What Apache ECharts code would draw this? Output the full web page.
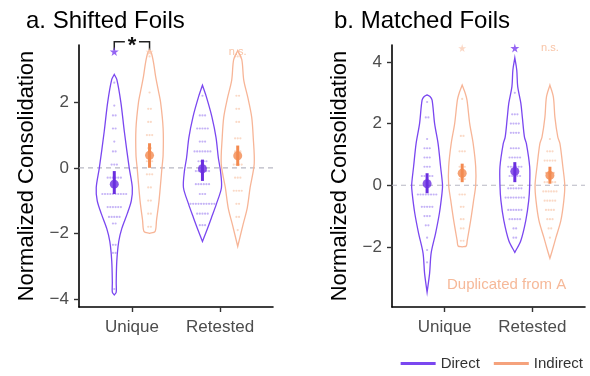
<!DOCTYPE html>
<html>
<head>
<meta charset="utf-8">
<script src="https://cdn.jsdelivr.net/npm/echarts@6/dist/echarts.min.js"></script>
<style>
html, body { margin: 0; background: #fff; }
#chart { width: 590px; height: 376px; }
</style>
</head>
<body>
<div id="chart"></div>
<script>
const categories = ['Unique', 'Retested']
const groups = ['Direct', 'Indirect']

// violin outlines: [value, relative density]
const shiftedUniqueDirect = [[2.85, 0], [2.7, 0.13], [2.0, 0.34], [1.1, 0.52], [0, 0.77], [-0.6, 0.93], [-1.0, 0.88], [-1.4, 0.67], [-1.85, 0.39], [-2.25, 0.23], [-2.85, 0.13], [-3.5, 0.1], [-3.8, 0.1], [-3.88, 0]]
const shiftedUniqueIndirect = [[3.6, 0], [3.5, 0.1], [3.2, 0.21], [2.8, 0.31], [2.4, 0.44], [2.0, 0.57], [1.2, 0.7], [0.4, 0.7], [0, 0.64], [-1.0, 0.49], [-1.6, 0.36], [-1.95, 0.28], [-2.0, 0]]
const shiftedRetestedDirect = [[2.52, 0], [2.15, 0.21], [1.55, 0.49], [0.92, 0.7], [0.3, 0.82], [-0.1, 0.93], [-0.6, 0.98], [-1.1, 0.72], [-1.53, 0.46], [-1.85, 0.26], [-2.25, 0]]
const shiftedRetestedIndirect = [[3.58, 0], [3.3, 0.21], [2.68, 0.31], [2.15, 0.52], [1.55, 0.72], [0.92, 0.8], [0.12, 0.85], [-0.6, 0.64], [-1.23, 0.49], [-1.72, 0.28], [-2.4, 0]]
const matchedUniqueDirect = [[2.93, 0], [2.88, 0.15], [2.76, 0.26], [2.0, 0.39], [1.35, 0.57], [0.6, 0.7], [0, 0.8], [-0.27, 0.77], [-0.9, 0.64], [-1.56, 0.44], [-2.2, 0.21], [-2.86, 0.13], [-3.47, 0]]
const matchedUniqueIndirect = [[3.25, 0], [3.0, 0.15], [2.76, 0.25], [2.0, 0.39], [1.35, 0.57], [0.6, 0.7], [0, 0.7], [-0.5, 0.59], [-1.14, 0.44], [-1.8, 0.26], [-1.97, 0.21], [-2.0, 0]]
const matchedRetestedDirect = [[4.13, 0], [3.74, 0.1], [3.2, 0.15], [2.67, 0.31], [2.2, 0.39], [1.56, 0.5], [1.35, 0.6], [0.6, 0.77], [0, 0.77], [-0.5, 0.72], [-1.14, 0.57], [-1.8, 0.31], [-2.18, 0]]
const matchedRetestedIndirect = [[3.25, 0], [2.86, 0.18], [2.2, 0.26], [1.56, 0.41], [1.35, 0.52], [0.6, 0.67], [0, 0.77], [-0.5, 0.72], [-1.14, 0.57], [-1.7, 0.31], [-2.1, 0.13], [-2.37, 0]]

// dot rows: [value, count]
const shiftedUniqueDirectDots = [[2.6, 1], [1.9, 1], [1.6, 2], [1.2, 2], [0.8, 1], [0.5, 2], [0.1, 3], [-0.3, 6], [-0.8, 10], [-1.2, 6], [-1.5, 5], [-1.7, 2], [-2.35, 2], [-2.6, 2], [-3.7, 1]]
const shiftedUniqueIndirectDots = [[3.4, 1], [2.3, 1], [1.8, 2], [1.4, 2], [1.0, 3], [0.6, 2], [0.2, 3], [-0.2, 3], [-0.6, 2], [-1.0, 2], [-1.4, 2], [-1.8, 2]]
const shiftedRetestedDirectDots = [[2.2, 1], [1.6, 3], [1.2, 5], [0.8, 3], [0.5, 7], [0.2, 4], [-0.1, 6], [-0.5, 6], [-0.8, 3], [-1.1, 10], [-1.4, 5], [-1.75, 3]]
const shiftedRetestedIndirectDots = [[3.4, 3], [2.2, 2], [1.8, 2], [1.4, 2], [0.9, 3], [0.5, 3], [0.1, 4], [-0.3, 3], [-0.7, 4], [-1.1, 2], [-1.5, 2], [-1.9, 1]]
const matchedUniqueDirectDots = [[2.7, 1], [2.2, 2], [1.5, 1], [1.2, 3], [0.9, 3], [0.6, 3], [0.3, 5], [-0.3, 8], [-0.7, 5], [-1.0, 3], [-1.3, 2], [-1.7, 1], [-2.1, 1], [-2.5, 1]]
const matchedUniqueIndirectDots = [[2.8, 1], [1.6, 2], [1.1, 3], [0.6, 3], [0.2, 3], [-0.3, 3], [-0.7, 2], [-1.1, 2], [-1.4, 2], [-1.8, 2]]
const matchedRetestedDirectDots = [[3.0, 1], [2.3, 3], [2.0, 4], [1.7, 4], [1.2, 4], [0.9, 5], [0.6, 6], [0.3, 5], [-0.1, 6], [-0.4, 8], [-0.8, 6], [-1.1, 5], [-1.4, 2], [-1.7, 2]]
const matchedRetestedIndirectDots = [[1.5, 1], [1.1, 3], [0.8, 5], [0.4, 4], [0.1, 5], [-0.2, 6], [-0.5, 5], [-0.8, 4], [-1.1, 3], [-1.4, 2], [-1.7, 1]]

// mean, lower, upper per category
const shiftedDirectMeans = [[-0.5, -0.8, -0.1], [-0.03, -0.4, 0.25]]
const shiftedIndirectMeans = [[0.38, 0.0, 0.75], [0.37, 0.06, 0.68]]
const matchedDirectMeans = [[0.05, -0.26, 0.39], [0.45, 0.1, 0.75]]
const matchedIndirectMeans = [[0.39, 0.1, 0.7], [0.32, 0.05, 0.6]]

const shiftedTicks = [-4, -2, 0, 2]
const matchedTicks = [-2, 0, 2, 4]

const lineColor = { Direct: '#7a47f0', Indirect: '#f7b597' }
const dotColor = { Direct: '#b7a0f4', Indirect: '#f9cfb8' }
const meanColor = { Direct: '#6a2ee0', Indirect: '#f38a50' }
const offset = { Direct: -0.2, Indirect: 0.2 }
const halfWidth = 0.22
const dotStep = 0.03
const font = 'Liberation Sans'
const starPath = 'path://M50,0 L61,35 L98,35 L68,57 L79,91 L50,70 L21,91 L32,57 L2,35 L39,35 Z'

const panels = [
    {
        title: 'a. Shifted Foils', left: 79, width: 194, min: -4.25, max: 3.75, ticks: shiftedTicks, markY: 3.55,
        violins: { Direct: [shiftedUniqueDirect, shiftedRetestedDirect], Indirect: [shiftedUniqueIndirect, shiftedRetestedIndirect] },
        dots: { Direct: [shiftedUniqueDirectDots, shiftedRetestedDirectDots], Indirect: [shiftedUniqueIndirectDots, shiftedRetestedIndirectDots] },
        means: { Direct: shiftedDirectMeans, Indirect: shiftedIndirectMeans },
        stars: [[1 + offset.Direct, 'Direct']], faint: [[1 + offset.Indirect]], ns: [[2 + offset.Indirect]], bracket: true
    },
    {
        title: 'b. Matched Foils', left: 392, width: 193, min: -3.95, max: 4.55, ticks: matchedTicks, markY: 4.45,
        violins: { Direct: [matchedUniqueDirect, matchedRetestedDirect], Indirect: [matchedUniqueIndirect, matchedRetestedIndirect] },
        dots: { Direct: [matchedUniqueDirectDots, matchedRetestedDirectDots], Indirect: [matchedUniqueIndirectDots, matchedRetestedIndirectDots] },
        means: { Direct: matchedDirectMeans, Indirect: matchedIndirectMeans },
        stars: [[2 + offset.Direct, 'Direct']], faint: [[1 + offset.Indirect]], ns: [[2 + offset.Indirect]], bracket: false
    }
]

let chart = echarts.init(document.querySelector('#chart'))

let grids = [], xAxes = [], yAxes = [], titles = [], series = []

panels.forEach(function (p, pi) {
    grids.push({ left: p.left, top: 45, width: p.width, height: 262 })
    titles.push({
        text: p.title, left: pi === 0 ? 21 : 329, top: 4,
        textStyle: { fontFamily: font, fontSize: 24, fontWeight: 'normal', color: '#000' }
    })
    xAxes.push({
        type: 'value', gridIndex: pi, min: 0.4, max: 2.6,
        splitLine: { show: false },
        axisLine: { onZero: false, lineStyle: { color: '#000', width: 1.6 } },
        axisTick: { customValues: [1, 2], length: 5, lineStyle: { color: '#333', width: 1.4 } },
        axisLabel: {
            customValues: [1, 2], margin: 12, fontFamily: font, fontSize: 17, color: '#4d4d4d',
            formatter: function (v) { return categories[Math.round(v) - 1] }
        }
    })
    yAxes.push({
        type: 'value', gridIndex: pi, min: p.min, max: p.max,
        name: 'Normalized Consolidation', nameLocation: 'middle', nameGap: 41,
        nameTextStyle: { fontFamily: font, fontSize: 22, color: '#000' },
        splitLine: { show: false },
        axisLine: { show: true, onZero: false, lineStyle: { color: '#000', width: 1.6 } },
        axisTick: { show: true, customValues: p.ticks, length: 5, lineStyle: { color: '#333', width: 1.4 } },
        axisLabel: {
            customValues: p.ticks, margin: 10, fontFamily: font, fontSize: 17, color: '#4d4d4d',
            formatter: function (v) { return v < 0 ? '\u2212' + Math.abs(v) : String(v) }
        }
    })

    // dashed zero line
    series.push({
        type: 'line', xAxisIndex: pi, yAxisIndex: pi, silent: true, symbol: 'none', z: 1,
        data: [[0.4, 0], [2.6, 0]],
        lineStyle: { color: '#b8b8c4', width: 1.2, type: [5, 4] }
    })

    groups.forEach(function (g) {
        // dots
        let dotData = []
        p.dots[g].forEach(function (rows, ci) {
            let cx = ci + 1 + offset[g]
            rows.forEach(function (r) {
                for (let k = 0; k < r[1]; k++) {
                    dotData.push([cx + (k - (r[1] - 1) / 2) * dotStep, r[0]])
                }
            })
        })
        series.push({
            type: 'scatter', xAxisIndex: pi, yAxisIndex: pi, silent: true, z: 2,
            symbol: 'circle', symbolSize: 2.2, data: dotData,
            itemStyle: { color: dotColor[g] }
        })

        // violin outlines
        series.push({
            type: 'custom', name: g, xAxisIndex: pi, yAxisIndex: pi, silent: true, z: 3,
            data: [[1, 0], [2, 0]],
            renderItem: function (params, api) {
                let outline = p.violins[g][params.dataIndex]
                let cx = params.dataIndex + 1 + offset[g]
                let right = outline.map(function (o) { return api.coord([cx + o[1] * halfWidth, o[0]]) })
                let left = outline.slice().reverse().map(function (o) { return api.coord([cx - o[1] * halfWidth, o[0]]) })
                return {
                    type: 'polygon',
                    shape: { points: right.concat(left), smooth: 0.3 },
                    style: { fill: 'none', stroke: lineColor[g], lineWidth: 1.3 }
                }
            }
        })

        // error bars
        series.push({
            type: 'custom', xAxisIndex: pi, yAxisIndex: pi, silent: true, z: 4,
            data: p.means[g].map(function (m, ci) { return [ci + 1 + offset[g], m[1], m[2]] }),
            renderItem: function (params, api) {
                let a = api.coord([api.value(0), api.value(1)])
                let b = api.coord([api.value(0), api.value(2)])
                return {
                    type: 'line',
                    shape: { x1: a[0], y1: a[1], x2: b[0], y2: b[1] },
                    style: { stroke: meanColor[g], lineWidth: 3 }
                }
            }
        })
        series.push({
            type: 'scatter', xAxisIndex: pi, yAxisIndex: pi, silent: true, z: 5,
            symbol: 'circle', symbolSize: 9,
            data: p.means[g].map(function (m, ci) { return [ci + 1 + offset[g], m[0]] }),
            itemStyle: { color: meanColor[g] }
        })
    })

    // significance marks
    series.push({
        type: 'scatter', xAxisIndex: pi, yAxisIndex: pi, silent: true, clip: false, z: 6,
        symbol: starPath, symbolSize: 9,
        data: p.stars.map(function (s) { return [s[0], p.markY] }),
        itemStyle: { color: '#7a3ff0' }
    })
    series.push({
        type: 'scatter', xAxisIndex: pi, yAxisIndex: pi, silent: true, clip: false, z: 6,
        symbol: starPath, symbolSize: 8,
        data: p.faint.map(function (s) { return [s[0], p.markY] }),
        itemStyle: { color: '#f9c6ab', opacity: 0.7 }
    })
    series.push({
        type: 'scatter', xAxisIndex: pi, yAxisIndex: pi, silent: true, clip: false, z: 6,
        symbolSize: 0,
        data: p.ns.map(function (s) { return [s[0], p.markY] }),
        label: { show: true, position: 'inside', formatter: 'n.s.', fontFamily: font, fontSize: 11, color: '#f6b48f' }
    })
    if (p.bracket) {
        series.push({
            type: 'custom', xAxisIndex: pi, yAxisIndex: pi, silent: true, clip: false, z: 6,
            data: [[1, 3.85]],
            renderItem: function (params, api) {
                let top = api.value(1)
                let l1 = api.coord([1 + offset.Direct, top - 0.25])
                let l2 = api.coord([1 + offset.Direct, top])
                let l3 = api.coord([0.92, top])
                let r1 = api.coord([1.08, top])
                let r2 = api.coord([1 + offset.Indirect, top])
                let r3 = api.coord([1 + offset.Indirect, top - 0.25])
                let c = api.coord([1, top])
                let st = { fill: 'none', stroke: '#222', lineWidth: 1.5 }
                return {
                    type: 'group',
                    children: [
                        { type: 'polyline', shape: { points: [l1, l2, l3] }, style: st },
                        { type: 'polyline', shape: { points: [r1, r2, r3] }, style: st },
                        { type: 'text', x: c[0], y: c[1] + 4, style: { text: '*', fontFamily: font, fontSize: 22, fontWeight: 'bold', fill: '#111', align: 'center', verticalAlign: 'middle' } }
                    ]
                }
            }
        })
    }
})

let option = {
    backgroundColor: '#fff',
    animation: false,
    title: titles,
    grid: grids,
    xAxis: xAxes,
    yAxis: yAxes,
    legend: {
        right: 2, top: 351, itemWidth: 35, itemHeight: 3, itemGap: 14,
        textStyle: { fontFamily: font, fontSize: 15, color: '#333' },
        data: [
            { name: 'Direct', icon: 'rect', itemStyle: { color: '#7a47f0' } },
            { name: 'Indirect', icon: 'rect', itemStyle: { color: '#f5a27c' } }
        ]
    },
    graphic: [{
        type: 'text', left: 447, top: 277,
        style: { text: 'Duplicated from A', fontFamily: font, fontSize: 15, fill: '#f6b999' }
    }],
    series: series
}

chart.setOption(option)
</script>
</body>
</html>
